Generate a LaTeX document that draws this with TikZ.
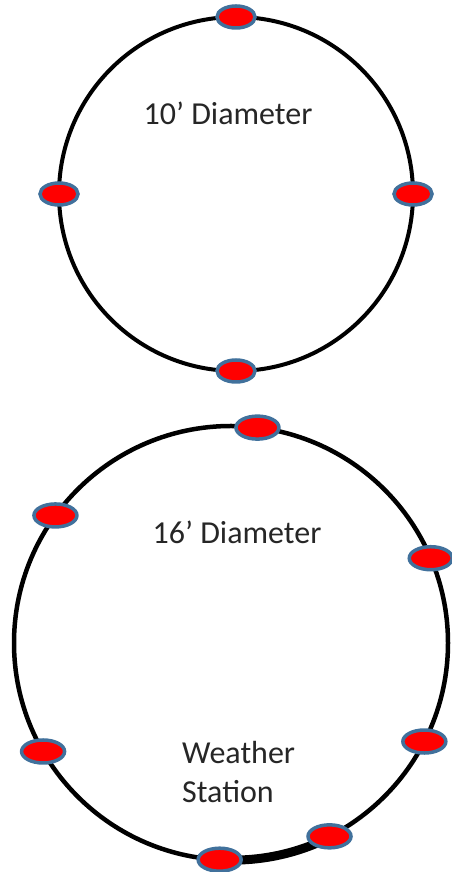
\documentclass[tikz,border=0pt]{standalone}
\usepackage{fontspec}
\setmainfont{Carlito}
\usetikzlibrary{shapes.geometric}
\definecolor{mblue}{HTML}{41719C}
\definecolor{txt}{HTML}{262626}
\tikzset{
  ring/.style={circle, draw=black, inner sep=0pt, outer sep=0pt},
  sensor/.style={ellipse, draw=mblue, fill=red, line width=3.5pt, inner sep=0pt},
  smallsensor/.style={sensor, minimum width=38pt, minimum height=22pt},
  bigsensor/.style={sensor, minimum width=43pt, minimum height=23pt},
  lbl/.style={text=txt, font=\fontsize{32}{39}\selectfont, inner sep=0pt}
}
\begin{document}
\begin{tikzpicture}[x=1pt,y=1pt]
\useasboundingbox (0,0) rectangle (452,872);
% top ring
\node[ring, line width=4pt, minimum size=354pt] (small) at (236,678) {};
\node[lbl] (t1) at (228,759) {10’ Diameter};
\node[smallsensor] (s1) at (small.90) {};
\node[smallsensor] (s2) at (small.180) {};
\node[smallsensor] (s3) at (small.0) {};
\node[smallsensor] (s4) at (small.270) {};
% bottom ring
\node[ring, line width=4.5pt, minimum size=434pt] (big) at (231,229) {};
\draw[line width=9pt] (big.-93.5) arc[start angle=-93.5, end angle=-63, radius=217pt];
\node[lbl] (t2) at (237,340) {16’ Diameter};
\node[lbl, anchor=west, align=left] (t3) at (182,99.5) {Weather\\Station};
\node[bigsensor] (b1) at (big.83) {};
\node[bigsensor] (b2) at (big.144) {};
\node[bigsensor] (b3) at (big.23) {};
\node[bigsensor] (b4) at (big.210) {};
\node[bigsensor] (b5) at (big.-27) {};
\node[bigsensor] (b6) at (big.-63) {};
\node[bigsensor] (b7) at (big.-93.5) {};
\end{tikzpicture}
\end{document}
